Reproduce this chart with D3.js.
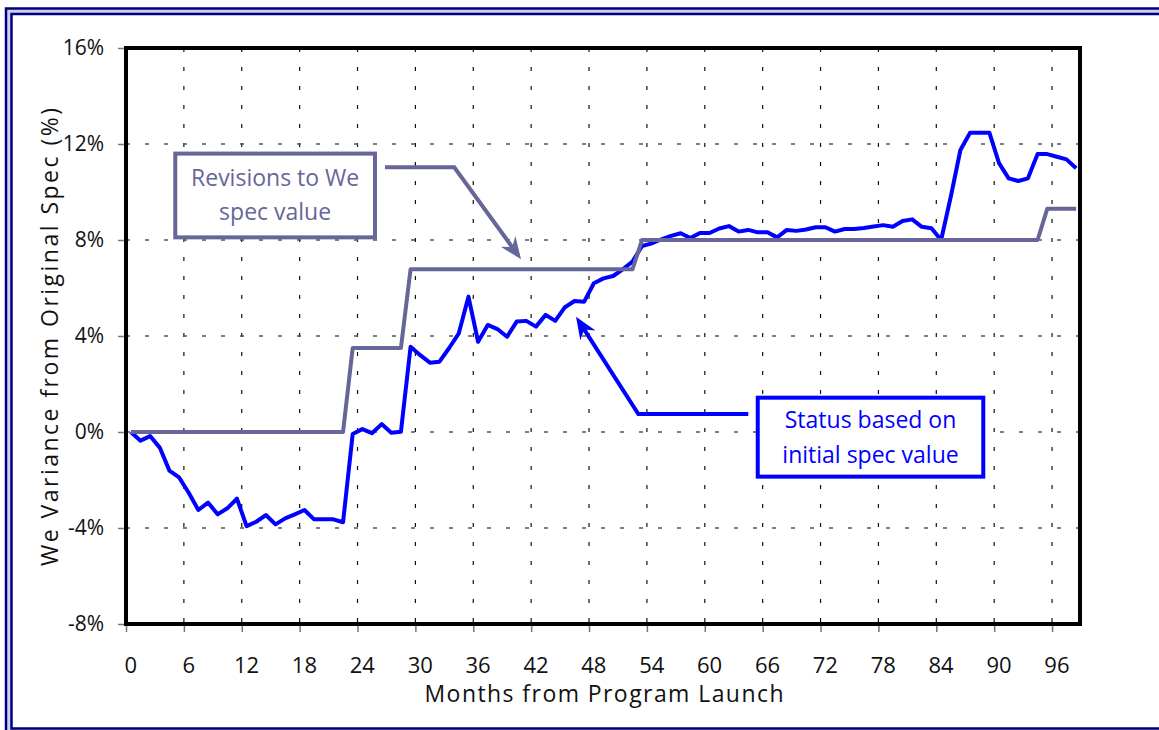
<!DOCTYPE html>
<html>
<head>
<meta charset="utf-8">
<script src="https://cdn.jsdelivr.net/npm/d3@7"></script>
<style>
  body { margin: 0; background: #fff; }
  svg text { font-family: "Open Sans", sans-serif; }
</style>
</head>
<body>
<svg id="chart" width="1159" height="730"></svg>
<script>
// months 0..98, one point per month
const months = d3.range(0, 99);

// status based on initial spec value (%)
const statusValues = [
  0, -0.36, -0.17, -0.65, -1.61, -1.89, -2.53, -3.25, -2.94, -3.43,
  -3.18, -2.78, -3.92, -3.74, -3.46, -3.85, -3.6, -3.43, -3.25, -3.64,
  -3.64, -3.64, -3.76, -0.08, 0.12, -0.05, 0.33, -0.03, 0.01, 3.55,
  3.2, 2.89, 2.93, 3.5, 4.11, 5.64, 3.76, 4.46, 4.29, 3.97,
  4.6, 4.63, 4.39, 4.88, 4.63, 5.2, 5.46, 5.43, 6.2, 6.4,
  6.5, 6.78, 7.1, 7.75, 7.86, 8.03, 8.17, 8.28, 8.08, 8.29,
  8.29, 8.48, 8.58, 8.35, 8.42, 8.32, 8.32, 8.11, 8.42, 8.38,
  8.44, 8.53, 8.53, 8.35, 8.46, 8.46, 8.5, 8.56, 8.62, 8.55,
  8.79, 8.86, 8.55, 8.49, 8.0, 9.8, 11.75, 12.47, 12.47, 12.47,
  11.2, 10.57, 10.46, 10.57, 11.58, 11.58, 11.47, 11.36, 10.99
];

// revisions to spec value (%)
const revisionValues = [
  0, 0, 0, 0, 0, 0, 0, 0, 0, 0,
  0, 0, 0, 0, 0, 0, 0, 0, 0, 0,
  0, 0, 0, 3.5, 3.5, 3.5, 3.5, 3.5, 3.5, 6.78,
  6.78, 6.78, 6.78, 6.78, 6.78, 6.78, 6.78, 6.78, 6.78, 6.78,
  6.78, 6.78, 6.78, 6.78, 6.78, 6.78, 6.78, 6.78, 6.78, 6.78,
  6.78, 6.78, 6.78, 8, 8, 8, 8, 8, 8, 8,
  8, 8, 8, 8, 8, 8, 8, 8, 8, 8,
  8, 8, 8, 8, 8, 8, 8, 8, 8, 8,
  8, 8, 8, 8, 8, 8, 8, 8, 8, 8,
  8, 8, 8, 8, 8, 9.3, 9.3, 9.3, 9.3
];

const xTicks = [0, 6, 12, 18, 24, 30, 36, 42, 48, 54, 60, 66, 72, 78, 84, 90, 96];
const yTicks = [-8, -4, 0, 4, 8, 12, 16];

const svg = d3.select("#chart");

// frame (double navy border)
svg.append("rect")
  .attr("x", 6).attr("y", 8.5)
  .attr("width", 1300).attr("height", 900)
  .attr("fill", "#cfd0ee")
  .attr("stroke", "#000080")
  .attr("stroke-width", 2.5);
svg.append("rect")
  .attr("x", 11.5).attr("y", 14)
  .attr("width", 1300).attr("height", 714.5)
  .attr("fill", "#fff")
  .attr("stroke", "#000080")
  .attr("stroke-width", 2.5);

const plotLeft = 126, plotRight = 1081, plotTop = 48, plotBottom = 624;

const x = d3.scaleBand().domain(months).range([plotLeft, plotRight]).padding(0);
// continuous month scale used for annotations
const xm = d3.scaleLinear().domain([0, 99]).range([plotLeft, plotRight]);
const y = d3.scaleLinear().domain([-8, 16]).range([plotBottom, plotTop]);

const mid = m => x(m) + x.bandwidth() / 2;

// grid
const grid = svg.append("g");
grid.selectAll(".vgrid")
  .data(xTicks.filter(t => t > 0))
  .enter()
  .append("line")
  .attr("x1", d => x(d)).attr("x2", d => x(d))
  .attr("y1", plotTop).attr("y2", plotBottom)
  .attr("stroke", "#111")
  .attr("stroke-width", 1.2)
  .attr("stroke-dasharray", "4,15");
grid.selectAll(".hgrid")
  .data(yTicks.filter(t => t > -8 && t < 16))
  .enter()
  .append("line")
  .attr("x1", plotLeft).attr("x2", plotRight)
  .attr("y1", d => y(d)).attr("y2", d => y(d))
  .attr("stroke", "#555")
  .attr("stroke-width", 1.5)
  .attr("stroke-dasharray", "4,15");

// axes
const yAxis = d3.axisLeft(y).tickValues(yTicks).tickSize(8).tickPadding(14)
  .tickFormat(d => d + "%");
const gy = svg.append("g").attr("transform", `translate(${plotLeft},0)`).call(yAxis);
gy.select(".domain").remove();
gy.selectAll("line").attr("stroke", "#777").attr("stroke-width", 1.5);
gy.selectAll("text").attr("font-size", 21).attr("fill", "#111")
  .attr("font-family", "Open Sans");

const xAxis = d3.axisBottom(xm).tickValues(xTicks).tickSize(8).tickFormat("");
const gx = svg.append("g").attr("transform", `translate(0,${plotBottom})`).call(xAxis);
gx.select(".domain").remove();
gx.selectAll("line").attr("stroke", "#777").attr("stroke-width", 1.5);

svg.append("g").selectAll("text")
  .data(xTicks)
  .enter()
  .append("text")
  .attr("x", d => mid(d))
  .attr("y", 673)
  .attr("text-anchor", "middle")
  .attr("font-size", 22)
  .attr("fill", "#111")
  .text(d => d);

// axis titles
svg.append("text")
  .attr("x", 604).attr("y", 702)
  .attr("text-anchor", "middle")
  .attr("font-size", 23)
  .attr("fill", "#111")
  .attr("textLength", 359)
  .attr("lengthAdjust", "spacing")
  .text("Months from Program Launch");

svg.append("text")
  .attr("transform", "translate(58,337) rotate(-90)")
  .attr("text-anchor", "middle")
  .attr("font-size", 23)
  .attr("fill", "#111")
  .attr("textLength", 458)
  .attr("lengthAdjust", "spacing")
  .text("We Variance from Original Spec (%)");

// series
const line = d3.line()
  .x(d => mid(d[0]))
  .y(d => y(d[1]));

svg.append("path")
  .datum(months.map((m, i) => [m, statusValues[i]]))
  .attr("d", line)
  .attr("fill", "none")
  .attr("stroke", "#0000ff")
  .attr("stroke-width", 4)
  .attr("stroke-linejoin", "round");

svg.append("path")
  .datum(months.map((m, i) => [m, revisionValues[i]]))
  .attr("d", line)
  .attr("fill", "none")
  .attr("stroke", "#666699")
  .attr("stroke-width", 4)
  .attr("stroke-linejoin", "round");

// plot border
svg.append("rect")
  .attr("x", plotLeft).attr("y", plotTop)
  .attr("width", plotRight - plotLeft - 1).attr("height", plotBottom - plotTop)
  .attr("fill", "none")
  .attr("stroke", "#000")
  .attr("stroke-width", 4);

// annotations, positioned in (month, %) units
function arrow(points, color) {
  let pts = points.map(p => [xm(p[0]), y(p[1])]);
  let n = pts.length;
  let tip = pts[n - 1], prev = pts[n - 2];
  let dx = tip[0] - prev[0], dy = tip[1] - prev[1];
  let len = Math.hypot(dx, dy);
  let ux = dx / len, uy = dy / len;
  let back = [tip[0] - ux * 22, tip[1] - uy * 22];
  let notch = [tip[0] - ux * 15, tip[1] - uy * 15];
  let px = -uy * 9, py = ux * 9;
  let shaft = pts.slice(0, n - 1).concat([notch]);
  svg.append("path")
    .attr("d", d3.line()(shaft))
    .attr("fill", "none")
    .attr("stroke", color)
    .attr("stroke-width", 4)
    .attr("stroke-linejoin", "miter");
  svg.append("path")
    .attr("d", d3.line()([tip, [back[0] + px, back[1] + py], notch,
      [back[0] - px, back[1] - py]]) + "Z")
    .attr("fill", color);
}

function noteBox(x0, x1, y0, y1, lines, baselines, color) {
  svg.append("rect")
    .attr("x", xm(x0)).attr("y", y(y0))
    .attr("width", xm(x1) - xm(x0)).attr("height", y(y1) - y(y0))
    .attr("fill", "#fff")
    .attr("stroke", color)
    .attr("stroke-width", 4);
  lines.forEach((t, i) => {
    svg.append("text")
      .attr("x", (xm(x0) + xm(x1)) / 2)
      .attr("y", y(baselines[i]))
      .attr("text-anchor", "middle")
      .attr("font-size", 23)
      .attr("fill", color)
      .text(t);
  });
}

arrow([[26.85, 11.03], [34.03, 11.03], [40.95, 7.2]], "#666699");
noteBox(5.11, 25.81, 11.6, 8.11, ["Revisions to We", "spec value"], [10.25, 8.83], "#666699");

arrow([[64.51, 0.75], [53.11, 0.75], [46.65, 4.8]], "#0000ff");
noteBox(65.49, 88.87, 1.43, -1.86, ["Status based on", "initial spec value"], [0.15, -1.29], "#0000ff");
</script>
</body>
</html>
